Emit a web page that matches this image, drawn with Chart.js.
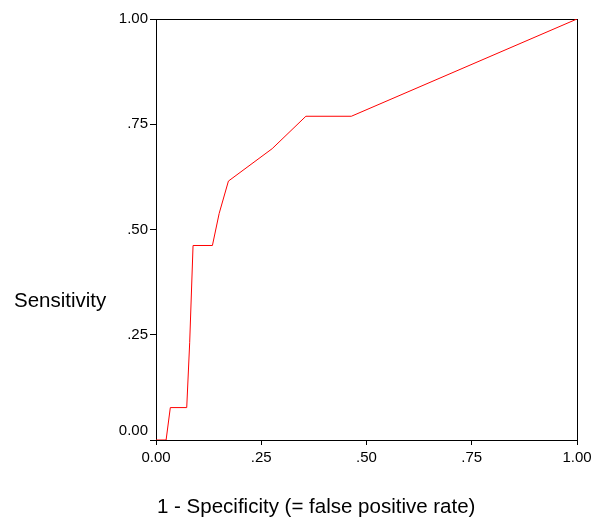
<!DOCTYPE html>
<html>
<head>
<meta charset="utf-8">
<script src="https://cdn.jsdelivr.net/npm/chart.js@4/dist/chart.umd.min.js"></script>
<style>
  html, body { margin: 0; padding: 0; background: #fff; }
  #wrap { width: 600px; height: 517px; position: relative; }
</style>
</head>
<body>
<div id="wrap"><canvas id="roc"></canvas></div>
<script>
// ROC curve points
const fpr = [0, 0.024, 0.034, 0.073, 0.080, 0.088, 0.134, 0.150, 0.172, 0.276, 0.356, 0.464, 1];
const tpr = [0, 0, 0.077, 0.077, 0.231, 0.462, 0.462, 0.538, 0.615, 0.692, 0.769, 0.769, 1];

const tickValues = [0, 0.25, 0.5, 0.75, 1];
const tickLabels = ['0.00', '.25', '.50', '.75', '1.00'];

const xTitle = '1 - Specificity (= false positive rate)';
const yTitle = 'Sensitivity';

const FONT = '"Liberation Sans", Arial, Helvetica, sans-serif';

// frame around the plot + horizontal axis titles
const framePlugin = {
  id: 'frame',
  beforeDatasetsDraw(chart) {
    const { ctx, chartArea: a } = chart;
    ctx.save();
    ctx.strokeStyle = '#000';
    ctx.lineWidth = 1;
    ctx.strokeRect(a.left + 0.5, a.top + 0.5, a.right - a.left, a.bottom - a.top);
    ctx.restore();
  },
  afterDraw(chart) {
    const { ctx } = chart;
    ctx.save();
    ctx.fillStyle = '#000';
    ctx.font = '20.5px ' + FONT;
    ctx.textAlign = 'left';
    ctx.textBaseline = 'alphabetic';
    ctx.fillText(yTitle, 14, 307);
    ctx.fillText(xTitle, 157, 513);
    ctx.restore();
  }
};

const labelFor = (v) => {
  const i = tickValues.indexOf(v);
  return i >= 0 ? tickLabels[i] : '';
};

const ctx = document.getElementById('roc').getContext('2d');
new Chart(ctx, {
  type: 'scatter',
  data: {
    datasets: [{
      data: fpr.map((x, i) => ({ x, y: tpr[i] })),
      showLine: true,
      borderColor: '#ff0000',
      borderWidth: 1,
      pointRadius: 0,
      tension: 0,
      fill: false
    }]
  },
  options: {
    responsive: true,
    maintainAspectRatio: false,
    animation: false,
    layout: { padding: { left: 0, top: 19, right: 23, bottom: 0 } },
    plugins: {
      legend: { display: false },
      tooltip: { enabled: false }
    },
    scales: {
      x: {
        type: 'linear',
        min: 0,
        max: 1,
        afterBuildTicks: (s) => { s.ticks = tickValues.map(v => ({ value: v })); },
        afterFit: (s) => { s.height = 77; },
        grid: { drawOnChartArea: false, drawTicks: true, tickLength: 5, color: '#000' },
        border: { display: true, color: '#000', width: 1 },
        ticks: {
          color: '#000',
          font: { family: FONT, size: 15 },
          padding: 4,
          maxRotation: 0,
          autoSkip: false,
          callback: (v) => labelFor(v)
        }
      },
      y: {
        type: 'linear',
        min: 0,
        max: 1,
        afterBuildTicks: (s) => { s.ticks = tickValues.map(v => ({ value: v })); },
        afterFit: (s) => { s.width = 156; },
        grid: { drawOnChartArea: false, drawTicks: true, tickLength: 6, color: '#000' },
        border: { display: true, color: '#000', width: 1 },
        ticks: {
          color: '#000',
          font: { family: FONT, size: 15, lineHeight: 1.2 },
          padding: 2,
          autoSkip: false,
          // bottom label sits a little above its tick
          callback: (v) => v === 0 ? [labelFor(v), ''] : labelFor(v)
        }
      }
    }
  },
  plugins: [framePlugin]
});
</script>
</body>
</html>
